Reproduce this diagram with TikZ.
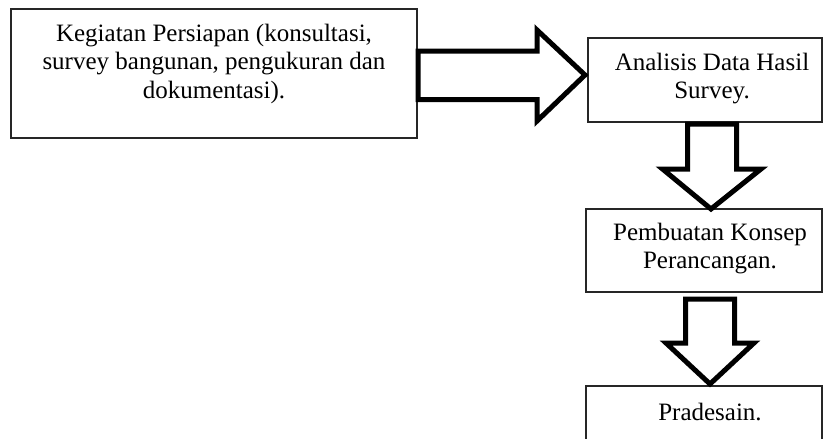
\documentclass[tikz,border=0pt]{standalone}
\usepackage{fontspec}
\setmainfont{Liberation Serif}
\usetikzlibrary{calc}
\begin{document}
\begin{tikzpicture}[x=1pt,y=-1pt,
  kotak/.style={draw=black!85,line width=1.1pt,rectangle,inner sep=0pt,outer sep=0pt,anchor=north west},
  teks/.style={anchor=north,inner sep=0pt,align=center,font=\fontsize{25}{28.5}\selectfont},
  panah/.style={draw=black,line width=5pt,fill=white,line join=miter}]
  \useasboundingbox (0,0) rectangle (823,439);
  \clip (0,0) rectangle (823,439);
  \node[kotak,minimum width=406pt,minimum height=129pt] (keg) at (11,9) {};
  \node[kotak,minimum width=234pt,minimum height=84pt] (ana) at (588,38) {};
  \node[kotak,minimum width=236pt,minimum height=83pt] (kon) at (586,209) {};
  \node[kotak,minimum width=236pt,minimum height=64pt] (pra) at (586,386) {};
  \node[teks] (kegt) at ($(keg.north)+(0,14.5)$) {Kegiatan Persiapan (konsultasi,\\survey bangunan, pengukuran dan\\dokumentasi).};
  \node[teks] (anat) at ($(ana.north)+(7,14.5)$) {Analisis Data Hasil\\Survey.};
  \node[teks] (kont) at ($(kon.north)+(6,13.5)$) {Pembuatan Konsep\\Perancangan.};
  \node[teks] (prat) at ($(pra.north)+(6,16.5)$) {Pradesain.};
  \coordinate (a1) at ($(keg.east)+(1,1.5)$);
  \draw[panah] ($(a1)+(0,-24)$) -- ++(119,0) -- ++(0,-21) -- ($(ana.west |- a1)+(-3,0)$)
    -- ($(a1)+(119,46)$) -- ++(0,-21.5) -- ($(a1)+(0,24.5)$) -- cycle;
  \coordinate (d1) at ($(ana.south)+(7,2)$);
  \draw[panah] ($(d1)+(-24.5,0)$) -- ++(0,45) -- ++(-25,0) -- ($(kon.north -| d1)+(-1,0)$)
    -- ($(d1)+(49,45)$) -- ++(-24.5,0) -- ($(d1)+(24.5,0)$) -- cycle;
  \coordinate (d2) at ($(kon.south)+(6,7)$);
  \draw[panah] ($(d2)+(-24.5,0)$) -- ++(0,44) -- ++(-19.5,0) -- ($(pra.north -| d2)+(0,-2)$)
    -- ($(d2)+(44,44)$) -- ++(-19.5,0) -- ($(d2)+(24.5,0)$) -- cycle;
\end{tikzpicture}
\end{document}
